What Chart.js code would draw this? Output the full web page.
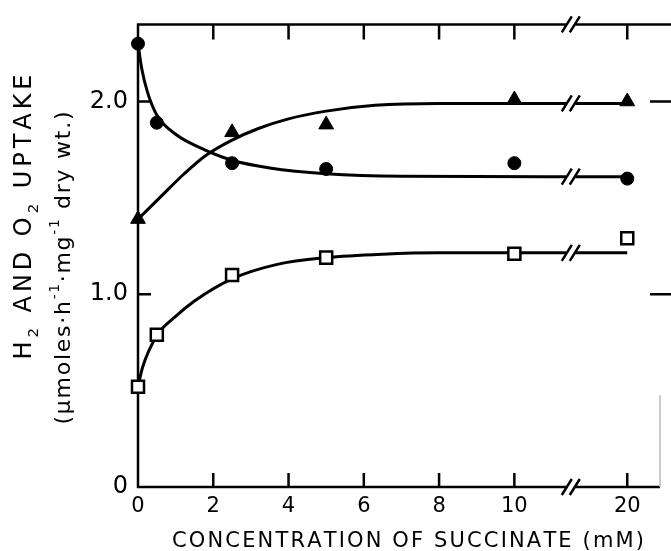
<!DOCTYPE html>
<html>
<head>
<meta charset="utf-8">
<script src="https://cdn.jsdelivr.net/npm/chart.js@4.4.0/dist/chart.umd.min.js"></script>
<style>
    html, body { margin: 0; padding: 0; background: #fff; }
    canvas { display: block; }
</style>
</head>
<body>
<canvas id="uptakeChart" width="671" height="551"></canvas>
<script>
// Measured points, concentration of succinate in mM
const circleConc = [0, 0.5, 2.5, 5, 10, 20];
const circleUptake = [2.30, 1.89, 1.68, 1.65, 1.68, 1.60];
const triangleConc = [0, 2.5, 5, 10, 20];
const triangleUptake = [1.39, 1.84, 1.88, 2.01, 2.00];
const squareConc = [0, 0.5, 2.5, 5, 10, 20];
const squareUptake = [0.52, 0.79, 1.10, 1.19, 1.21, 1.29];

// Hand drawn curves (null = gap at the axis break)
const circleCurveConc = [0, 0.1, 0.25, 0.5, 1, 1.6, 2.5, 3.5, 5, 7, 14.6, 15, 15.4, 20];
const circleCurveUptake = [2.30, 2.17, 2.05, 1.93, 1.83, 1.765, 1.695, 1.655, 1.625, 1.612, 1.61, null, 1.61, 1.61];
const triangleCurveConc = [0, 0.6, 1.2, 1.8, 2.5, 3.2, 4, 5, 6.3, 8, 14.6, 15, 15.4, 20];
const triangleCurveUptake = [1.39, 1.505, 1.62, 1.72, 1.80, 1.86, 1.91, 1.95, 1.98, 1.99, 1.99, null, 1.99, 1.99];
const squareCurveConc = [0, 0.12, 0.5, 1, 1.5, 2.5, 3.7, 5, 6.5, 8, 14.6, 15, 15.4, 20];
const squareCurveUptake = [0.52, 0.62, 0.785, 0.885, 0.965, 1.08, 1.155, 1.19, 1.208, 1.215, 1.215, null, 1.215, 1.215];

// Axis ticks
const xTickConc = [0, 2, 4, 6, 8, 10, 20];
const yTicks = [0, 1.0, 2.0];
const yTickLabels = ['0', '1.0', '2.0'];
const BREAK_CONC = 15;

const FONT = '"DejaVu Sans", "Liberation Sans", sans-serif';

// 20 mM is drawn just past the axis break
function axisPos(c) {
    return c <= 10 ? c : 10 + (c - 10) * 0.3;
}

function toPoints(conc, uptake) {
    return conc.map((c, i) => ({ x: axisPos(c), y: uptake[i] }));
}

// Slanted "//" break mark
function drawBreak(ctx, px, py) {
    [-4, 4].forEach(dx => {
        ctx.moveTo(px + dx - 5, py + 8);
        ctx.lineTo(px + dx + 5, py - 8);
    });
}

// Letter-spaced text with sub/superscripts, centred on the origin
function drawSpacedText(ctx, parts, size, length) {
    const glyphs = [];
    parts.forEach(([text, kind]) => {
        const s = kind ? size * 0.62 : size;
        const dy = kind === 'sub' ? size * 0.3 : kind === 'sup' ? -size * 0.5 : 0;
        for (const ch of text) glyphs.push({ ch, s, dy });
    });
    let natural = 0;
    glyphs.forEach(g => {
        ctx.font = g.s + 'px ' + FONT;
        g.w = ctx.measureText(g.ch).width;
        natural += g.w;
    });
    const gap = (length - natural) / (glyphs.length - 1);
    let pos = -length / 2;
    glyphs.forEach(g => {
        ctx.font = g.s + 'px ' + FONT;
        ctx.fillText(g.ch, pos, g.dy);
        pos += g.w + gap;
    });
}

const frameAndTitles = {
    id: 'frameAndTitles',
    beforeDatasetsDraw(chart) {
        const { ctx, chartArea: a, scales: { x, y } } = chart;
        const bx = x.getPixelForValue(axisPos(BREAK_CONC));
        ctx.save();
        ctx.strokeStyle = '#000';
        ctx.lineWidth = 2.5;
        ctx.beginPath();
        // frame
        ctx.moveTo(a.left, a.top - 1);
        ctx.lineTo(a.left, a.bottom + 1);
        ctx.moveTo(a.left - 1, a.bottom);
        ctx.lineTo(bx - 4, a.bottom);
        ctx.moveTo(bx + 4, a.bottom);
        ctx.lineTo(a.right, a.bottom);
        ctx.moveTo(a.left - 1, a.top);
        ctx.lineTo(bx - 4, a.top);
        ctx.moveTo(bx + 4, a.top);
        ctx.lineTo(chart.width, a.top);
        // inward ticks
        xTickConc.slice(1).forEach(c => {
            const px = x.getPixelForValue(axisPos(c));
            ctx.moveTo(px, a.bottom);
            ctx.lineTo(px, a.bottom - 14);
            ctx.moveTo(px, a.top);
            ctx.lineTo(px, a.top + 15);
        });
        yTicks.slice(1).forEach(v => {
            const py = y.getPixelForValue(v);
            ctx.moveTo(a.left, py);
            ctx.lineTo(a.left + 13, py);
            ctx.moveTo(a.right - 10, py);
            ctx.lineTo(chart.width, py);
        });
        drawBreak(ctx, bx, a.bottom);
        drawBreak(ctx, bx, a.top);
        ctx.stroke();
        // faint remains of the right border
        ctx.beginPath();
        ctx.strokeStyle = '#bbb';
        ctx.lineWidth = 1.5;
        ctx.moveTo(a.right, 395);
        ctx.lineTo(a.right, a.bottom);
        ctx.stroke();
        ctx.restore();
    },
    afterDatasetsDraw(chart) {
        const { ctx, scales: { x, y } } = chart;
        const bx = x.getPixelForValue(axisPos(BREAK_CONC));
        ctx.save();
        ctx.strokeStyle = '#000';
        ctx.lineWidth = 2.5;
        ctx.beginPath();
        [circleCurveUptake, triangleCurveUptake, squareCurveUptake].forEach(curve => {
            drawBreak(ctx, bx, y.getPixelForValue(curve[curve.length - 1]));
        });
        ctx.stroke();
        ctx.restore();
    },
    afterDraw(chart) {
        const { ctx } = chart;
        ctx.save();
        ctx.fillStyle = '#000';
        ctx.textBaseline = 'alphabetic';
        ctx.textAlign = 'left';

        // x axis title
        ctx.save();
        ctx.translate(408, 547);
        drawSpacedText(ctx, [['CONCENTRATION OF SUCCINATE (mM)', '']], 21, 472);
        ctx.restore();

        // y axis title, two rotated lines
        ctx.save();
        ctx.translate(31, 217);
        ctx.rotate(-Math.PI / 2);
        drawSpacedText(ctx, [['H', ''], ['2', 'sub'], [' AND O', ''], ['2', 'sub'], [' UPTAKE', '']], 24, 285);
        ctx.restore();

        ctx.save();
        ctx.translate(70, 268);
        ctx.rotate(-Math.PI / 2);
        drawSpacedText(ctx, [['(\u03bcmoles\u00b7h', ''], ['-1', 'sup'], ['\u00b7mg', ''], ['-1', 'sup'], [' dry wt.)', '']], 22, 313);
        ctx.restore();

        ctx.restore();
    }
};

const markerStyle = { showLine: false, clip: false, pointBorderColor: '#000' };
const curveStyle = {
    showLine: true,
    pointRadius: 0,
    borderColor: '#000',
    borderWidth: 3,
    cubicInterpolationMode: 'monotone',
    spanGaps: false,
    clip: false
};

const ctx = document.getElementById('uptakeChart').getContext('2d');
const uptakeChart = new Chart(ctx, {
    type: 'scatter',
    data: {
        datasets: [
            Object.assign({ data: toPoints(circleConc, circleUptake), pointStyle: 'circle', pointRadius: 6.5, pointBackgroundColor: '#000' }, markerStyle),
            Object.assign({ data: toPoints(triangleConc, triangleUptake), pointStyle: 'triangle', pointRadius: 8.5, pointBackgroundColor: '#000' }, markerStyle),
            Object.assign({ data: toPoints(squareConc, squareUptake), pointStyle: 'rect', pointRadius: 8.5, pointBorderWidth: 2.5, pointBackgroundColor: '#fff' }, markerStyle),
            Object.assign({ data: toPoints(circleCurveConc, circleCurveUptake) }, curveStyle),
            Object.assign({ data: toPoints(triangleCurveConc, triangleCurveUptake) }, curveStyle),
            Object.assign({ data: toPoints(squareCurveConc, squareCurveUptake) }, curveStyle)
        ]
    },
    options: {
        responsive: false,
        animation: false,
        events: [],
        layout: { padding: { top: 17, right: 3, left: 0, bottom: 0 } },
        plugins: {
            legend: { display: false },
            tooltip: { enabled: false }
        },
        scales: {
            x: {
                type: 'linear',
                min: 0,
                max: 13.87,
                grid: { display: false, drawTicks: false },
                border: { display: false },
                afterBuildTicks: scale => {
                    scale.ticks = xTickConc.map(c => ({ value: axisPos(c) }));
                },
                afterFit: scale => { scale.height = 64; },
                ticks: {
                    autoSkip: false,
                    maxRotation: 0,
                    padding: 7,
                    color: '#000',
                    font: { family: FONT, size: 21 },
                    callback: (value, index) => String(xTickConc[index])
                }
            },
            y: {
                type: 'linear',
                min: 0,
                max: 2.4,
                grid: { display: false, drawTicks: false },
                border: { display: false },
                afterBuildTicks: scale => {
                    scale.ticks = yTicks.map(v => ({ value: v }));
                },
                afterFit: scale => { scale.width = 138; },
                ticks: {
                    autoSkip: false,
                    padding: 10,
                    color: '#000',
                    font: { family: FONT, size: 24 },
                    callback: (value, index) => yTickLabels[index]
                }
            }
        }
    },
    plugins: [frameAndTitles]
});
</script>
</body>
</html>
